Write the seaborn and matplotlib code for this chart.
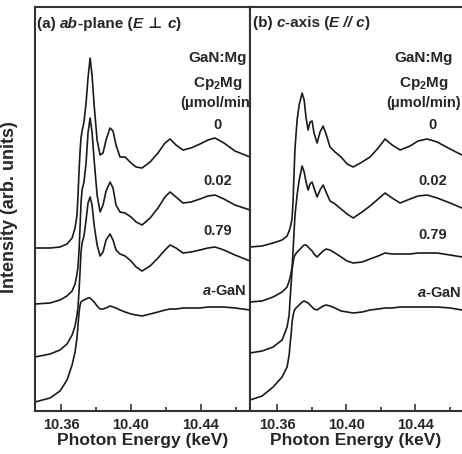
import numpy as np
import pandas as pd
import matplotlib
matplotlib.use("Agg")
import matplotlib.pyplot as plt
import seaborn as sns
from matplotlib.ticker import FixedLocator
from matplotlib.offsetbox import TextArea, HPacker, AnchoredOffsetbox

# ---------------- data ----------------
# photon energy grids (keV)
energy_ab = [10.3451, 10.3537, 10.3594, 10.3634, 10.3663, 10.3680, 10.3691, 10.3697,
             10.3703, 10.3709, 10.3714, 10.3720, 10.3731, 10.3743, 10.3754, 10.3766,
             10.3777, 10.3789, 10.3806, 10.3823, 10.3840, 10.3857, 10.3880, 10.3897,
             10.3914, 10.3937, 10.3966, 10.4000, 10.4029, 10.4063, 10.4109, 10.4154,
             10.4194, 10.4223, 10.4257, 10.4297, 10.4343, 10.4394, 10.4440, 10.4480,
             10.4531, 10.4594, 10.4680]
energy_c = [10.3443, 10.3513, 10.3577, 10.3629, 10.3658, 10.3670, 10.3675, 10.3681,
            10.3687, 10.3693, 10.3699, 10.3704, 10.3716, 10.3728, 10.3745, 10.3757,
            10.3768, 10.3780, 10.3791, 10.3803, 10.3814, 10.3832, 10.3849, 10.3867,
            10.3884, 10.3907, 10.3936, 10.3971, 10.4006, 10.4041, 10.4093, 10.4139,
            10.4186, 10.4226, 10.4267, 10.4313, 10.4371, 10.4417, 10.4470, 10.4528,
            10.4603, 10.4672]

# intensities (arb. units, vertically offset as in the figure)
ab_0 = [163, 163, 164, 167, 173, 183, 196, 216, 241, 261, 273, 280, 289, 308, 333, 353,
        336, 306, 271, 256, 258, 271, 283, 280, 266, 254, 254, 248, 244, 243, 249, 258,
        268, 272, 266, 261, 263, 267, 271, 273, 268, 260, 254]
ab_002 = [107, 108, 111, 115, 120, 127, 137, 145, 161, 186, 208, 221, 229, 248, 278, 293,
          279, 251, 216, 199, 206, 220, 229, 223, 206, 199, 198, 194, 189, 186, 193, 203,
          214, 219, 214, 208, 209, 212, 215, 216, 212, 206, 201]
ab_079 = [54, 57, 61, 67, 76, 85, 96, 104, 121, 141, 159, 168, 175, 191, 208, 214,
          206, 186, 166, 155, 159, 171, 177, 171, 161, 157, 155, 150, 144, 140, 145, 153,
          161, 166, 163, 158, 159, 161, 163, 164, 161, 156, 150]
ab_aGaN = [9, 13, 20, 31, 46, 59, 73, 86, 99, 106, 109, 110, 111, 112, 113, 113,
           111, 109, 105, 102, 102, 103, 105, 104, 103, 101, 99, 97, 96, 95, 97, 99,
           101, 102, 102, 103, 103, 103, 104, 104, 104, 103, 101]

c_0 = [164, 165, 168, 171, 175, 180, 183, 187, 193, 211, 241, 263, 291, 306, 318, 311,
       293, 281, 289, 290, 278, 268, 279, 285, 277, 264, 259, 254, 247, 244, 249, 254,
       263, 272, 266, 261, 265, 270, 272, 269, 262, 256]
c_002 = [109, 110, 114, 119, 124, 130, 133, 138, 144, 161, 181, 196, 216, 231, 245, 239,
         229, 221, 227, 229, 223, 214, 221, 226, 219, 210, 207, 202, 197, 193, 199, 205,
         212, 218, 213, 208, 212, 215, 216, 213, 208, 203]
c_079 = [58, 60, 64, 71, 84, 96, 111, 126, 141, 149, 154, 156, 159, 161, 164, 166,
         166, 164, 162, 160, 157, 154, 157, 160, 162, 161, 158, 154, 150, 148, 149, 152,
         155, 158, 157, 157, 157, 158, 158, 158, 156, 154]
c_aGaN = [11, 15, 24, 34, 44, 56, 66, 76, 89, 96, 100, 102, 104, 106, 109, 110,
          109, 108, 106, 104, 102, 101, 103, 105, 106, 105, 103, 100, 99, 98, 99, 101,
          102, 103, 103, 104, 104, 104, 104, 104, 103, 101]

sample_labels = ["0", "0.02", "0.79", r"$\it{a}$-GaN"]
tick_major = [10.36, 10.40, 10.44]
tick_minor = [10.38, 10.42, 10.46]
tick_labels = ["10.36", "10.40", "10.44"]

for arr in (ab_0, ab_002, ab_079, ab_aGaN):
    assert len(arr) == len(energy_ab)
for arr in (c_0, c_002, c_079, c_aGaN):
    assert len(arr) == len(energy_c)

rows = []
for panel, e, curves in (("ab", energy_ab, [ab_0, ab_002, ab_079, ab_aGaN]),
                         ("c", energy_c, [c_0, c_002, c_079, c_aGaN])):
    for lab, vals in zip(sample_labels, curves):
        for i, (x, y) in enumerate(zip(e, vals)):
            rows.append(dict(panel=panel, sample=lab, idx=i, energy=x, intensity=y))
df = pd.DataFrame(rows)

# ---------------- style ----------------
sns.set_style("white")
plt.rcParams["font.family"] = ["Liberation Sans", "DejaVu Sans"]
plt.rcParams["font.weight"] = "bold"
plt.rcParams["mathtext.fontset"] = "custom"
plt.rcParams["mathtext.rm"] = "Liberation Sans:bold"
plt.rcParams["mathtext.bf"] = "Liberation Sans:bold"
plt.rcParams["mathtext.it"] = "Liberation Sans:bold:italic"

W, H = 462, 454
fig = plt.figure(figsize=(W / 100, H / 100), dpi=100)
ax1 = fig.add_axes([35 / W, (H - 411) / H, 215 / W, 404 / H])
ax2 = fig.add_axes([250 / W, (H - 411) / H, 212 / W, 404 / H])

spine_c = "#333333"
for ax, panel, xl in ((ax1, "ab", (10.3451, 10.4680)), (ax2, "c", (10.3443, 10.4672))):
    sub = df[df.panel == panel]
    for lab in sample_labels:
        s = sub[sub["sample"] == lab]
        sns.lineplot(data=s, x="energy", y="intensity", ax=ax, color="#1a1a1a",
                     lw=1.2, sort=False, estimator=None, legend=False)
    ax.set_xlim(*xl)
    ax.set_ylim(0, 404)
    ax.set_yticks([])
    ax.xaxis.set_major_locator(FixedLocator(tick_major))
    ax.xaxis.set_minor_locator(FixedLocator(tick_minor))
    ax.set_xticklabels(tick_labels, fontsize=10.5, fontweight="bold")
    ax.tick_params(axis="x", which="major", direction="in", length=5, width=1.2,
                   color=spine_c, pad=5, bottom=True)
    ax.tick_params(axis="x", which="minor", direction="in", length=3, width=1.2,
                   color=spine_c, bottom=True)
    ax.set_xlabel("Photon Energy (keV)", fontsize=12.5, fontweight="bold", labelpad=1)
    ax.set_ylabel("")
    for sp in ax.spines.values():
        sp.set_color(spine_c)
        sp.set_linewidth(1.5)
ax2.spines["right"].set_visible(False)

# titles built from pieces (mixed italic / symbol fonts)
def rich_title(ax, parts, x, y):
    boxes = []
    for txt, style, fam in parts:
        boxes.append(TextArea(txt, textprops=dict(fontsize=11, fontweight="bold",
                                                  fontstyle=style, family=fam)))
    pack = HPacker(children=boxes, align="baseline", pad=0, sep=0)
    anch = AnchoredOffsetbox(loc="upper left", child=pack, pad=0, borderpad=0, frameon=False,
                             bbox_to_anchor=(x, y), bbox_transform=ax.transAxes)
    ax.add_artist(anch)

LS = ["Liberation Sans", "DejaVu Sans"]
rich_title(ax1, [("(a) ", "normal", LS), ("ab", "italic", LS), ("-plane (", "normal", LS),
                 ("E", "italic", LS), (" ⊥ ", "normal", ["DejaVu Sans"]),
                 ("c", "italic", LS), (")", "normal", LS)], 0.01, 0.978)
rich_title(ax2, [("(b) ", "normal", LS), ("c", "italic", LS), ("-axis (", "normal", LS),
                 ("E // c", "italic", LS), (")", "normal", LS)], 0.012, 0.978)

# annotations (data coords)
def annotate(ax, xc, header_y, lab_ys, num_dx, agan_dx):
    ax.text(xc, header_y[0], "GaN:Mg", ha="center", va="center", fontsize=11, fontweight="bold")
    ax.text(xc, header_y[1], r"Cp$_2$Mg", ha="center", va="center", fontsize=11, fontweight="bold")
    ax.text(xc, header_y[2], "(μmol/min)", ha="center", va="center", fontsize=10.5, fontweight="bold")
    for lab, y in zip(sample_labels, lab_ys):
        dx = agan_dx if lab == sample_labels[3] else num_dx
        ax.text(xc + dx, y, lab, ha="center", va="center", fontsize=10.5, fontweight="bold")

annotate(ax1, 10.4494, (353, 328, 308), (286, 230, 180, 120), 0.0, 0.004)
annotate(ax2, 10.4450, (353, 328, 308), (286, 230, 176, 118), 0.005, 0.009)

fig.text(10 / W, (H - 207) / H, "Intensity (arb. units)", rotation=90, ha="center", va="center",
         fontsize=13, fontweight="bold")

fig.savefig("out.png", dpi=100)
